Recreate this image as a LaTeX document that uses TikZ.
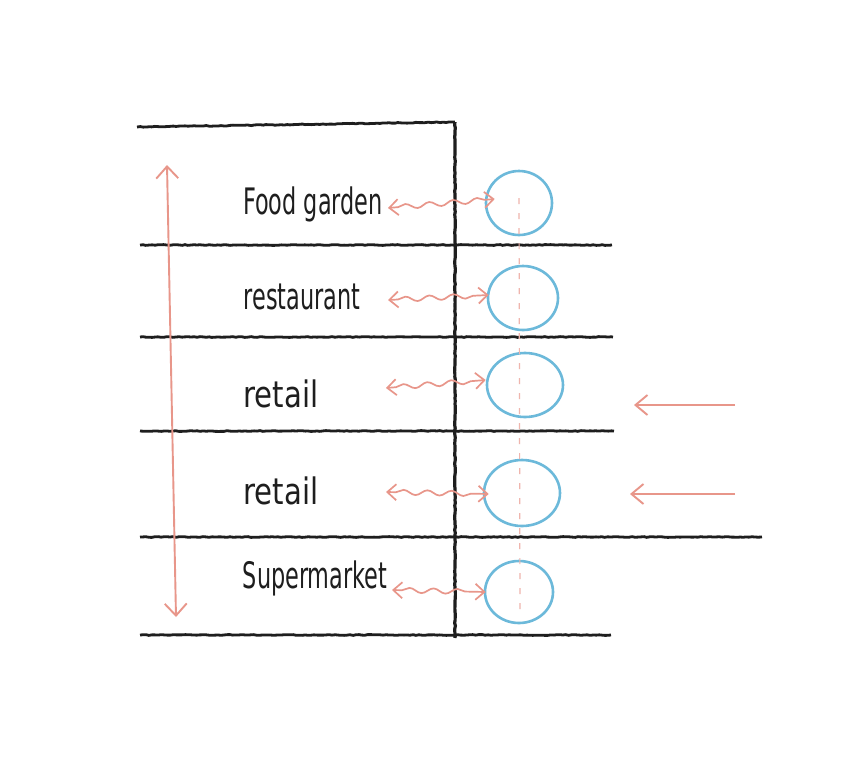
\documentclass[tikz,border=0pt]{standalone}
\usepackage{fontspec}
\setmainfont{DejaVu Sans Condensed}
\usetikzlibrary{arrows.meta,decorations.pathmorphing,shapes.geometric}
\definecolor{ink}{HTML}{1E1E1E}
\definecolor{salmon}{HTML}{E8968A}
\definecolor{sky}{HTML}{6CB9DA}
\newcommand{\hand}[2][0.92]{\scalebox{#1}[1.35]{#2}}
\tikzset{
  floor/.style={draw=ink,line width=2.8pt,decorate,decoration={random steps,segment length=3pt,amplitude=0.4pt}},
  wall/.style={draw=ink,line width=3.2pt,decorate,decoration={random steps,segment length=3pt,amplitude=0.4pt}},
  lbl/.style={font=\fontsize{27}{30}\selectfont, text=ink, inner sep=0pt},
  wavyarr/.style={draw=salmon,line width=1.7pt,{Straight Barb[length=9pt,width=16pt]}-{Straight Barb[length=9pt,width=16pt]},
    decorate,decoration={snake,amplitude=2.5pt,segment length=24pt,pre length=10pt,post length=10pt}},
  redarr/.style={draw=salmon,line width=1.9pt,-{Straight Barb[length=12pt,width=20pt]}},
  ring/.style={draw=sky,line width=2.6pt,ellipse,inner sep=0pt},
  axisline/.style={draw=salmon!70,line width=1.2pt,dash pattern=on 6pt off 9pt}
}
\begin{document}
\begin{tikzpicture}[x=1pt,y=-1pt]
\fill[white] (0,0) rectangle (860,761);
\useasboundingbox (0,0) rectangle (860,761);
% coordinates
\coordinate (tl) at (137,127);
\coordinate (tr) at (455,122);
\coordinate (wb) at (455,638);
\coordinate (l1a) at (140,245); \coordinate (l1b) at (612,245);
\coordinate (l2a) at (140,337); \coordinate (l2b) at (613,337);
\coordinate (l3a) at (140,431); \coordinate (l3b) at (614,431);
\coordinate (l4a) at (140,537); \coordinate (l4b) at (762,537);
\coordinate (l5a) at (140,635); \coordinate (l5b) at (611,635);
% floors
\draw[floor] (tl) -- (tr);
\draw[wall] (tr) -- (wb);
\draw[floor] (l1a) -- (l1b);
\draw[floor] (l2a) -- (l2b);
\draw[floor] (l3a) -- (l3b);
\draw[floor] (l4a) -- (l4b);
\draw[floor] (l5a) -- (l5b);
% circles
\node[ring,minimum width=66pt,minimum height=64pt] (c1) at (519,203) {};
\node[ring,minimum width=70pt,minimum height=64pt] (c2) at (523,298) {};
\node[ring,minimum width=76pt,minimum height=64pt] (c3) at (525,385) {};
\node[ring,minimum width=76pt,minimum height=66pt] (c4) at (522,493) {};
\node[ring,minimum width=68pt,minimum height=62pt] (c5) at (519,592) {};
% dashed axis
\coordinate (at) at (519,198);
\coordinate (ab) at (520,616);
\draw[axisline] (at) -- (ab);
% labels
\node[lbl] (t1) at (313,204) {\hand{Food garden}};
\node[lbl] (t2) at (302,297) {\hand{restaurant}};
\node[lbl] (t3) at (281,394) {\hand[1.2]{retail}};
\node[lbl] (t4) at (281,491) {\hand[1.2]{retail}};
\node[lbl] (t5) at (315,578) {\hand{Supermarket}};
% wavy arrows
\coordinate (w1) at (388,208); \coordinate (w2) at (388,300);
\coordinate (w3) at (386,388); \coordinate (w4) at (386,492);
\coordinate (w5) at (392,590);
\draw[wavyarr] (w1) -- ([xshift=10pt,yshift=4pt]c1.west);
\draw[wavyarr] (w2) -- ([xshift=2pt,yshift=3pt]c2.west);
\draw[wavyarr] (w3) -- ([xshift=0pt,yshift=5pt]c3.west);
\draw[wavyarr] (w4) -- ([xshift=6pt,yshift=-1pt]c4.west);
\draw[wavyarr] (w5) -- ([xshift=2pt,yshift=0pt]c5.west);
% vertical double arrow
\coordinate (va) at (167,165);
\coordinate (vb) at (176,617);
\draw[draw=salmon,line width=1.9pt,{Straight Barb[length=12pt,width=22pt]}-{Straight Barb[length=12pt,width=22pt]}] (va) -- (vb);
% right arrows
\coordinate (r1a) at (735,405); \coordinate (r1b) at (634,405);
\coordinate (r2a) at (735,494); \coordinate (r2b) at (630,494);
\draw[redarr] (r1a) -- (r1b);
\draw[redarr] (r2a) -- (r2b);
\end{tikzpicture}
\end{document}
